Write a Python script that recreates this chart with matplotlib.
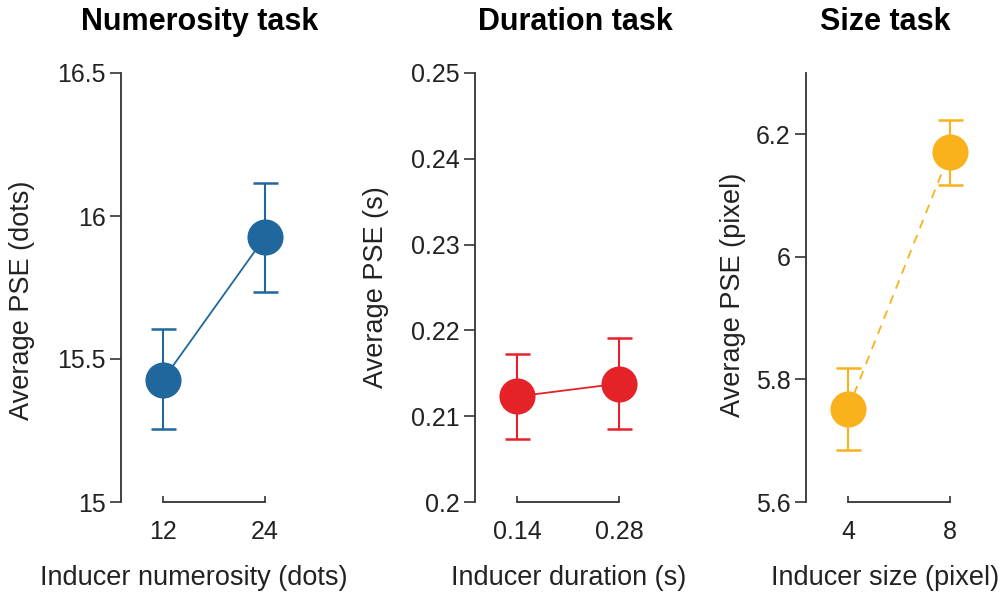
import matplotlib
matplotlib.use("Agg")
import matplotlib.pyplot as plt

plt.rcParams['font.family'] = ['Liberation Sans', 'DejaVu Sans']

titles = ["Numerosity task", "Duration task", "Size task"]
xlabels = ["Inducer numerosity (dots)", "Inducer duration (s)", "Inducer size (pixel)"]
ylabels = ["Average PSE (dots)", "Average PSE (s)", "Average PSE (pixel)"]
xticklabels = [["12", "24"], ["0.14", "0.28"], ["4", "8"]]
means = [[15.427, 15.927], [0.2123, 0.2138], [5.751, 6.171]]
err_low = [[15.255, 15.734], [0.2074, 0.2085], [5.685, 6.117]]
err_high = [[15.605, 16.115], [0.2172, 0.2191], [5.818, 6.223]]
yticks = [[15, 15.5, 16, 16.5], [0.2, 0.21, 0.22, 0.23, 0.24, 0.25], [5.6, 5.8, 6.0, 6.2]]
yticklabels = [["15", "15.5", "16", "16.5"], ["0.2", "0.21", "0.22", "0.23", "0.24", "0.25"],
               ["5.6", "5.8", "6", "6.2"]]
ylims = [(15, 16.5), (0.2, 0.25), (5.6, 6.3)]
colors = ["#1f679c", "#e52228", "#f9b11c"]
linestyles = ["-", "-", (0, (5, 4))]

fig = plt.figure(figsize=(10.04, 5.97), dpi=100)
W, H = 1004, 597
top, bottom = 73, 502
lefts = [121, 475, 806]
ax_w = 186
title_x = [200, 575, 885]
ylabel_x = [22, 376, 733]
ylabel_y = [300, 287, 295]
xlabel_x = [194, 569, 885]
xlabel_y = 578
for i in range(3):
    ax = fig.add_axes([lefts[i] / W, 1 - bottom / H, ax_w / W, (bottom - top) / H])
    x = [0, 1]
    lo = [m - l for m, l in zip(means[i], err_low[i])]
    hi = [h - m for m, h in zip(means[i], err_high[i])]
    ax.plot(x, means[i], color=colors[i], lw=1.3, ls=linestyles[i], zorder=2)
    ax.errorbar(x, means[i], yerr=[lo, hi], fmt='none', ecolor=colors[i],
                elinewidth=1.5, capsize=9, capthick=1.8, zorder=2)
    ax.plot(x, means[i], 'o', color=colors[i], ms=26, mec='none', zorder=3)
    ax.set_xlim(-0.41, 1.41)
    ax.set_ylim(*ylims[i])
    ax.set_xticks(x)
    ax.set_xticklabels(xticklabels[i])
    ax.set_yticks(yticks[i])
    ax.set_yticklabels(yticklabels[i])
    for s in ['top', 'right']:
        ax.spines[s].set_visible(False)
    ax.spines['bottom'].set_bounds(0, 1)
    for s in ['left', 'bottom']:
        ax.spines[s].set_color('#333333')
        ax.spines[s].set_linewidth(1.3)
    ax.tick_params(axis='y', direction='out', length=8, width=1.2, colors='#333333',
                   labelsize=18, labelcolor='#222222', pad=3)
    ax.tick_params(axis='x', direction='in', length=4, width=1.2, colors='#333333',
                   labelsize=18, labelcolor='#222222', pad=13)
    ax.set_ylabel(ylabels[i], fontsize=19.5, color='#222222', va='center')
    ax.yaxis.set_label_coords((ylabel_x[i] - lefts[i]) / ax_w,
                              (bottom - ylabel_y[i]) / (bottom - top))
    ax.set_xlabel(xlabels[i], fontsize=19.5, color='#222222', va='center')
    ax.xaxis.set_label_coords((xlabel_x[i] - lefts[i]) / ax_w,
                              -(xlabel_y - bottom) / (bottom - top))
    fig.text(title_x[i] / W, 1 - 22 / H, titles[i], fontsize=22, fontweight='bold',
             ha='center', va='center', color='black')

fig.savefig("out.png", dpi=100)
